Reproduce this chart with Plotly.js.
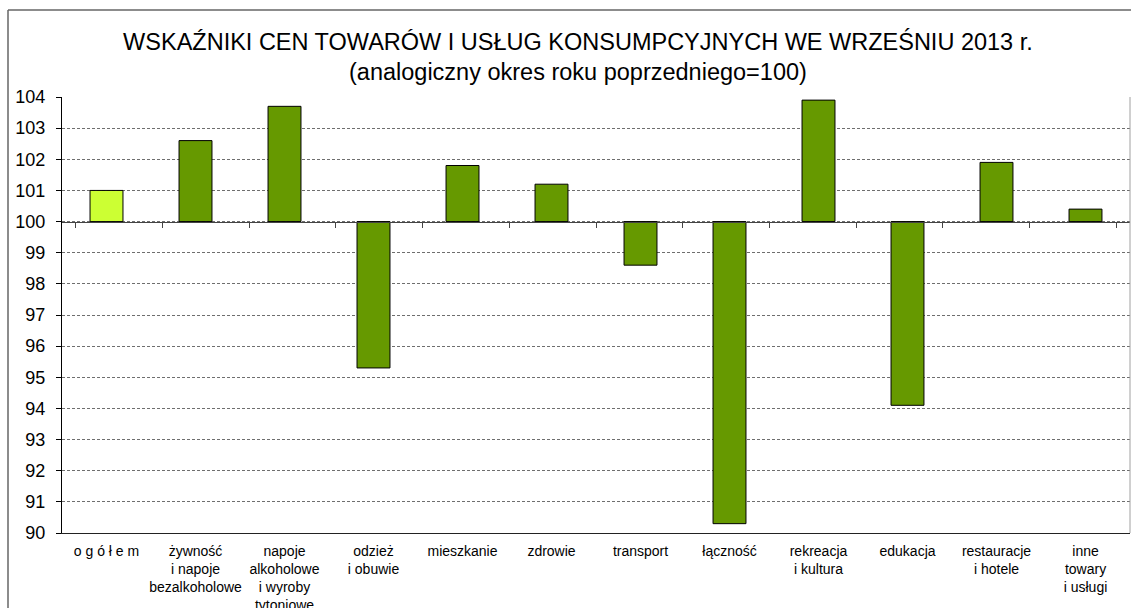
<!DOCTYPE html>
<html>
<head>
<meta charset="utf-8">
<script src="https://cdn.plot.ly/plotly-3.0.1.min.js"></script>
<style>
  html, body { margin: 0; padding: 0; background: #ffffff; }
  #chart { width: 1131px; height: 608px; }
</style>
</head>
<body>
<div id="chart"></div>
<script>
// ---- data ----
const categories = [
  "o g ó ł e m",
  "żywność<br>i napoje<br>bezalkoholowe",
  "napoje<br>alkoholowe<br>i wyroby<br>tytoniowe",
  "odzież<br>i obuwie",
  "mieszkanie",
  "zdrowie",
  "transport",
  "łączność",
  "rekreacja<br>i kultura",
  "edukacja",
  "restauracje<br>i hotele",
  "inne<br>towary<br>i usługi"
];
const values = [101.0, 102.6, 103.7, 95.3, 101.8, 101.2, 98.6, 90.3, 103.9, 94.1, 101.9, 100.4];
const baseValue = 100;
const yMin = 90;
const yMax = 104;
const yTicks = [90, 91, 92, 93, 94, 95, 96, 97, 98, 99, 100, 101, 102, 103, 104];
const titleText = "WSKAŹNIKI CEN TOWARÓW I USŁUG KONSUMPCYJNYCH WE WRZEŚNIU 2013 r.<br>(analogiczny okres roku poprzedniego=100)";

// ---- styles ----
const totalColor = "#CCFF33";
const groupColor = "#669900";
const font = "'Liberation Sans', Arial, sans-serif";

const barColors = values.map((v, i) => i === 0 ? totalColor : groupColor);

const bars = {
  type: "bar",
  x: categories,
  y: values.map(v => v - baseValue),
  base: baseValue,
  marker: { color: barColors, line: { color: "#000000", width: 1 } },
  width: 0.37,
  hoverinfo: "x+text",
  text: values.map(v => v.toFixed(1)),
  textposition: "none",
  xaxis: "x",
  yaxis: "y"
};

// invisible helper trace to carry the crossing category axis at 100
const axisHelper = {
  type: "scatter",
  mode: "markers",
  x: categories,
  y: values,
  marker: { opacity: 0 },
  hoverinfo: "skip",
  showlegend: false,
  xaxis: "x2",
  yaxis: "y"
};

const crossPos = (baseValue - yMin) / (yMax - yMin);

const layout = {
  width: 1131,
  height: 608,
  margin: { l: 62, r: 1, t: 97, b: 75, pad: 0 },
  paper_bgcolor: "#ffffff",
  plot_bgcolor: "#ffffff",
  showlegend: false,
  font: { family: font, color: "#000000", size: 14 },
  title: {
    text: titleText,
    font: { family: font, size: 23.5, color: "#000000" },
    xref: "container",
    x: 0.511,
    xanchor: "center",
    yref: "container",
    y: 0.918,
    yanchor: "middle"
  },
  xaxis: {
    type: "category",
    showline: true,
    linecolor: "#222222",
    linewidth: 1,
    ticks: "",
    ticklabelstandoff: 5,
    showgrid: false,
    zeroline: false,
    tickfont: { family: font, size: 14, color: "#000000" },
    tickangle: 0,
    fixedrange: true
  },
  xaxis2: {
    type: "category",
    overlaying: "x",
    anchor: "free",
    position: crossPos,
    showline: true,
    linecolor: "#444444",
    linewidth: 1,
    ticks: "outside",
    ticklen: 5,
    tickcolor: "#444444",
    tickson: "boundaries",
    showticklabels: false,
    showgrid: false,
    zeroline: false,
    fixedrange: true
  },
  yaxis: {
    range: [yMin, yMax],
    tickvals: yTicks,
    ticktext: yTicks.map(String),
    showline: true,
    linecolor: "#000000",
    linewidth: 1,
    ticks: "outside",
    ticklen: 5,
    tickcolor: "#000000",
    ticklabelstandoff: 7,
    showgrid: true,
    gridcolor: "#6e6e6e",
    gridwidth: 1,
    griddash: "3px,2px",
    zeroline: false,
    tickfont: { family: font, size: 18, color: "#000000" },
    fixedrange: true
  },
  shapes: [
    { type: "line", xref: "paper", yref: "paper", x0: 1, x1: 1, y0: 0, y1: 1,
      line: { color: "#a0a0a0", width: 1 } },
    { type: "line", xref: "paper", yref: "paper", x0: -54/1068, x1: -54/1068, y0: -75/436, y1: 523/436,
      line: { color: "#666666", width: 1.5 } },
    { type: "line", xref: "paper", yref: "paper", x0: -54/1068, x1: 1.01, y0: 523/436, y1: 523/436,
      line: { color: "#666666", width: 1.5 } }
  ]
};

Plotly.newPlot("chart", [bars, axisHelper], layout, { displayModeBar: false, staticPlot: true });
</script>
</body>
</html>
